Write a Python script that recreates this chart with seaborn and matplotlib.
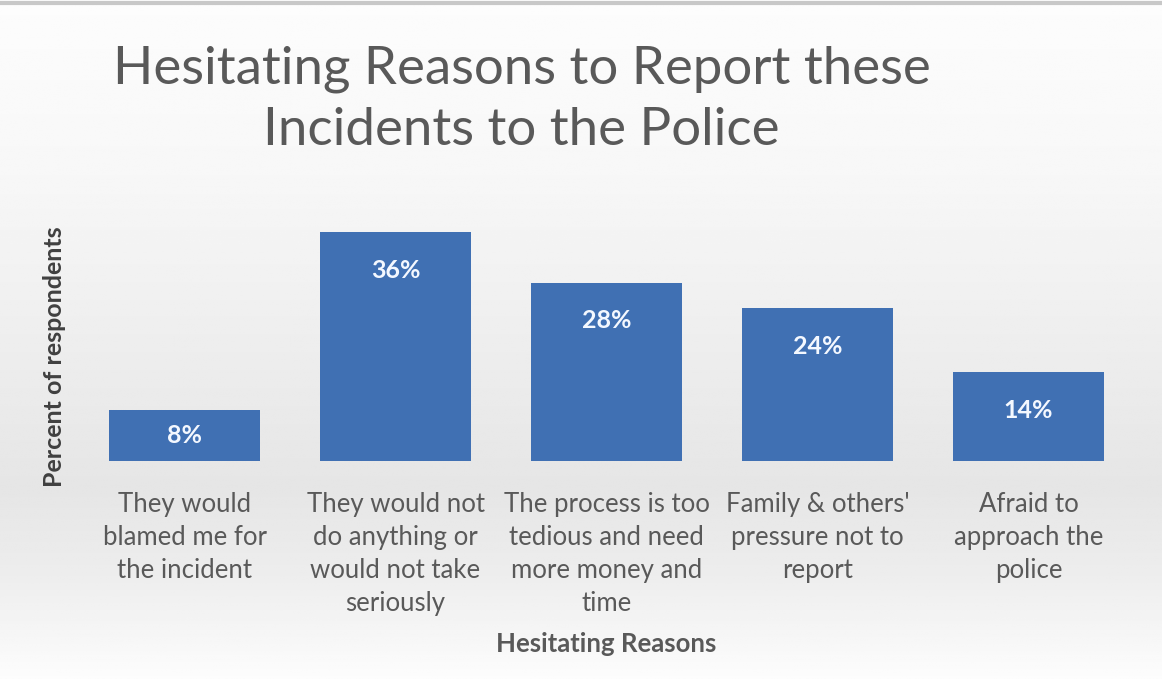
import numpy as np
import seaborn as sns
import matplotlib.pyplot as plt

reasons = [
    "They would\nblamed me for\nthe incident",
    "They would not\ndo anything or\nwould not take\nseriously",
    "The process is too\ntedious and need\nmore money and\ntime",
    "Family & others'\npressure not to\nreport",
    "Afraid to\napproach the\npolice",
]
percents = [8, 36, 28, 24, 14]

sns.set_style("white")
plt.rcParams['font.family'] = ['Lato', 'DejaVu Sans']

fig = plt.figure(figsize=(11.62, 6.79), dpi=100)

# soft gray gradient background
bg = fig.add_axes([0, 0, 1, 1], zorder=-1)
yy = np.linspace(0, 1, 300)
shade = np.interp(yy, [0, 0.25, 0.72, 0.85, 1.0], [0.99, 0.97, 0.90, 0.93, 0.99])
bg.imshow(np.tile(shade[:, None], (1, 10)), cmap='gray', vmin=0, vmax=1,
          aspect='auto', extent=[0, 1, 0, 1], origin='upper')
bg.axhline(0.995, color='#c8c8c8', lw=3)
bg.set_axis_off()

ax = fig.add_axes([0.068, 0.321, 0.908, 0.375])
ax.patch.set_alpha(0)
sns.barplot(x=reasons, y=percents, color='#4070b3', saturation=1, width=0.716,
            linewidth=0, ax=ax)
ax.set_xlim(-0.5, 4.5)
ax.set_ylim(0, 40)

for i, v in enumerate(percents):
    ax.text(i, max(v - 6, v / 2), f"{v}%", ha='center', va='center',
            color='#f4f8ff', fontsize=18, fontweight='bold')

ax.set_yticks([])
ax.tick_params(axis='x', length=0, pad=22)
for lab in ax.get_xticklabels():
    lab.set_fontsize(18.5)
    lab.set_color('#595959')
    lab.set_linespacing(1.4)
    lab.set_va('top')
for s in ax.spines.values():
    s.set_visible(False)

ax.set_xlabel("Hesitating Reasons", fontsize=18.5, fontweight='bold', color='#595959')
ax.xaxis.set_label_coords(0.5, -0.67)
ax.set_ylabel("Percent of respondents", fontsize=18, fontweight='bold', color='#404040')
ax.yaxis.set_label_coords(-0.012, 0.41)

fig.text(0.449, 0.853, "Hesitating Reasons to Report these\nIncidents to the Police",
         ha='center', va='center', fontsize=38, color='#595959', linespacing=1.38)

fig.savefig("out.png", dpi=100)
